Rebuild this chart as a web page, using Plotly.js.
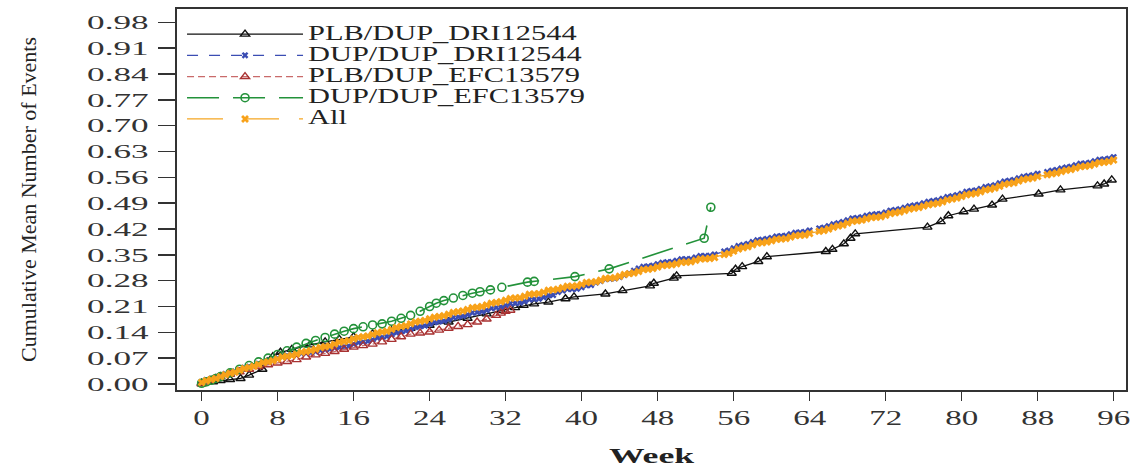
<!DOCTYPE html>
<html>
<head>
<meta charset="utf-8">
<script src="https://cdn.plot.ly/plotly-3.0.1.min.js"></script>
<style>
  html, body { margin: 0; padding: 0; background: #fff; }
  #chart { width: 1133px; height: 469px; }
  .legendtext { font-size: 20px !important; }
</style>
</head>
<body>
<div id="chart"></div>
<script>
// ---------------- data ----------------
var seriesNames = ['PLB/DUP_DRI12544', 'DUP/DUP_DRI12544', 'PLB/DUP_EFC13579', 'DUP/DUP_EFC13579', 'All'];

var weeksPlbDri = [0,1.2,2,3,4.1,5,6.4,6.9,7.5,8.3,
  9.5,11.4,13,14.5,16,18,20,22,24,26,
  28,30,31.5,33,33.9,35,36.5,38.3,39.2,42.5,
  44.3,47.2,47.6,49.7,50,55.8,56.2,56.9,58.6,59.5,
  65.7,66.4,67.6,68.3,68.8,76.4,77.8,78.6,80.2,81.3,
  83.2,84.3,88.1,90.4,94.3,95,95.8];
var valuesPlbDri = [0.002,0.006,0.009,0.012,0.015,0.024,0.040,0.060,0.074,0.086,
  0.094,0.106,0.114,0.121,0.128,0.136,0.144,0.151,0.159,0.168,
  0.178,0.190,0.199,0.207,0.213,0.217,0.222,0.231,0.236,0.244,
  0.253,0.266,0.273,0.287,0.293,0.300,0.311,0.318,0.332,0.345,
  0.359,0.365,0.380,0.395,0.407,0.425,0.440,0.456,0.467,0.474,
  0.485,0.501,0.515,0.526,0.537,0.542,0.553];

// dense event times shared by the DUP/DUP_DRI12544 and All curves
var weeksDense = [0,0.5,1,1.5,2,2.5,3,3.5,4,4.5,
  5,5.5,6,6.5,7,7.5,8,8.5,9,9.5,
  10,10.5,11,11.5,12,12.5,13,13.5,14,14.5,
  15,15.5,16,16.5,17,17.5,18,18.5,19,19.5,
  20,20.5,21,21.5,22,22.5,23,23.5,24,24.5,
  25,25.5,26,26.5,27,27.5,28,28.5,29,29.5,
  30,30.5,31,31.5,32,32.5,33,33.5,34,34.5,
  35,35.5,36,36.5,37,37.5,38,38.5,39,39.5,
  40,40.5,41,41.5,42,42.5,43,43.5,44,44.5,
  45,45.5,46,46.5,47,47.5,48,48.5,49,49.5,
  50,50.5,51,51.5,52,52.5,53,53.5,54,
  55,55.5,56,56.5,57,57.5,58,58.5,59,59.5,
  60,60.5,61,61.5,62,62.5,63,63.5,64,
  65,65.5,66,66.5,67,67.5,68,68.5,69,69.5,
  70,70.5,71,71.5,72,72.5,73,73.5,74,74.5,
  75,75.5,76,76.5,77,77.5,78,78.5,79,79.5,
  80,80.5,81,81.5,82,82.5,83,83.5,84,84.5,
  85,85.5,86,86.5,87,87.5,88,89,89.5,
  90,90.5,91,91.5,92,92.5,93,93.5,94,94.5,
  95,95.5,96];

var valuesDupDri = [0.005,0.011,0.014,0.017,0.022,0.027,0.031,0.034,0.039,0.044,
  0.047,0.050,0.055,0.060,0.062,0.065,0.070,0.075,0.077,0.079,
  0.082,0.083,0.084,0.085,0.088,0.091,0.093,0.095,0.098,0.099,
  0.101,0.103,0.108,0.112,0.114,0.116,0.120,0.125,0.127,0.129,
  0.134,0.139,0.142,0.144,0.149,0.154,0.156,0.158,0.163,0.167,
  0.169,0.171,0.175,0.180,0.182,0.184,0.188,0.193,0.194,0.196,
  0.200,0.205,0.207,0.209,0.213,0.218,0.219,0.220,0.224,0.229,
  0.230,0.231,0.235,0.240,0.241,0.249,0.253,0.257,0.257,0.258,
  0.262,0.267,0.268,0.275,0.279,0.284,0.285,0.286,0.290,0.295,
  0.300,0.307,0.313,0.318,0.319,0.321,0.325,0.329,0.330,0.331,
  0.334,0.338,0.338,0.339,0.343,0.347,0.347,0.348,0.351,
  0.359,0.362,0.368,0.374,0.377,0.380,0.385,0.390,0.391,0.393,
  0.396,0.400,0.401,0.402,0.406,0.410,0.411,0.412,0.416,
  0.422,0.424,0.428,0.433,0.436,0.439,0.444,0.449,0.450,0.452,
  0.456,0.459,0.460,0.461,0.465,0.470,0.472,0.474,0.478,0.482,
  0.484,0.486,0.490,0.494,0.496,0.498,0.502,0.507,0.509,0.512,
  0.516,0.521,0.523,0.525,0.529,0.534,0.536,0.539,0.544,0.549,
  0.551,0.553,0.558,0.562,0.564,0.566,0.570,0.575,0.578,
  0.580,0.584,0.587,0.589,0.593,0.597,0.598,0.600,0.604,0.608,
  0.609,0.611,0.615];

var valuesAll = [0.004,0.009,0.012,0.015,0.020,0.025,0.029,0.032,0.037,0.042,
  0.045,0.048,0.053,0.058,0.060,0.063,0.068,0.073,0.075,0.077,
  0.081,0.086,0.088,0.090,0.094,0.099,0.101,0.103,0.108,0.113,
  0.115,0.117,0.122,0.126,0.128,0.130,0.134,0.139,0.141,0.143,
  0.148,0.153,0.156,0.158,0.163,0.168,0.170,0.172,0.177,0.181,
  0.183,0.185,0.189,0.194,0.196,0.198,0.202,0.207,0.208,0.210,
  0.214,0.219,0.221,0.223,0.227,0.232,0.233,0.234,0.238,0.243,
  0.244,0.245,0.249,0.254,0.255,0.257,0.261,0.265,0.265,0.266,
  0.270,0.275,0.276,0.277,0.281,0.286,0.287,0.288,0.292,0.297,
  0.299,0.301,0.305,0.310,0.311,0.313,0.317,0.321,0.322,0.323,
  0.326,0.330,0.330,0.331,0.335,0.339,0.339,0.340,0.343,
  0.351,0.354,0.360,0.366,0.369,0.372,0.377,0.382,0.383,0.385,
  0.388,0.392,0.393,0.394,0.398,0.402,0.403,0.404,0.408,
  0.414,0.416,0.420,0.425,0.428,0.431,0.436,0.441,0.442,0.444,
  0.448,0.451,0.452,0.453,0.457,0.462,0.464,0.466,0.470,0.474,
  0.476,0.478,0.482,0.486,0.488,0.490,0.494,0.499,0.501,0.504,
  0.508,0.513,0.515,0.517,0.521,0.526,0.528,0.531,0.536,0.541,
  0.543,0.545,0.550,0.554,0.556,0.558,0.562,0.567,0.570,
  0.572,0.576,0.579,0.581,0.585,0.589,0.590,0.592,0.596,0.600,
  0.601,0.603,0.607];

var weeksPlbEfc = [0,0.5,1,1.5,2,3,4,5,6,7,8,9,10,11,12,13,14,15,16,17,18,19,20,
  21,22,23,24,25,26,27,28,29,30,31,31.5,32,32.5];
var valuesPlbEfc = [0,0.005,0.010,0.015,0.020,0.026,0.033,0.040,0.047,0.052,0.057,0.061,0.066,
  0.073,0.079,0.083,0.088,0.094,0.100,0.104,0.108,0.114,0.121,0.128,0.135,0.138,0.141,
  0.146,0.151,0.156,0.161,0.168,0.176,0.186,0.192,0.197,0.200];

var weeksDupEfc = [0,0.5,1,1.5,2,3,4,5,6,7,8,9,10,11,12,13,14,15,16,17,18,19,20,21,22,23,24,
  24.7,25.5,26.5,27.5,28.5,29.3,30.4,31.6,34.3,35,39.3,42.9,52.9,53.6];
var valuesDupEfc = [0.002,0.006,0.010,0.015,0.020,0.030,0.040,0.050,0.060,0.070,0.080,0.090,
  0.100,0.110,0.118,0.126,0.135,0.143,0.150,0.155,0.160,0.163,0.170,0.178,0.186,0.197,0.210,
  0.219,0.226,0.233,0.240,0.246,0.250,0.255,0.262,0.276,0.278,0.291,0.312,0.395,0.479];

var xTickVals = [0,8,16,24,32,40,48,56,64,72,80,88,96];
var yTickVals = [0,0.07,0.14,0.21,0.28,0.35,0.42,0.49,0.56,0.63,0.70,0.77,0.84,0.91,0.98];
var yTickText = ['0.00','0.07','0.14','0.21','0.28','0.35','0.42','0.49','0.56','0.63','0.70','0.77','0.84','0.91','0.98'];

// ---------------- traces ----------------
var FONT = 'Liberation Serif, Times New Roman, serif';
var traces = [
  {x: weeksPlbDri, y: valuesPlbDri, name: seriesNames[0], mode: 'lines+markers',
   line: {color: '#111111', width: 1.3, dash: 'solid'},
   marker: {symbol: 'triangle-up-open', size: 8, color: '#111111', line: {width: 1.4, color: '#111111'}}},
  {x: weeksDense, y: valuesDupDri, name: seriesNames[1], mode: 'lines+markers',
   line: {color: '#3b4db3', width: 1.3, dash: '11px,11px'},
   marker: {symbol: 'x', size: 6, color: '#3b4db3', line: {width: 0}}},
  {x: weeksPlbEfc, y: valuesPlbEfc, name: seriesNames[2], mode: 'lines+markers',
   line: {color: '#c96a6a', width: 1.3, dash: '7px,4px'},
   marker: {symbol: 'triangle-up-open', size: 8, color: '#a83232', line: {width: 1.4, color: '#a83232'}}},
  {x: weeksDupEfc, y: valuesDupEfc, name: seriesNames[3], mode: 'lines+markers',
   line: {color: '#23923a', width: 1.6, dash: '32px,14px'},
   marker: {symbol: 'circle-open', size: 8, color: '#23923a', line: {width: 1.6, color: '#23923a'}}},
  {x: weeksDense, y: valuesAll, name: seriesNames[4], mode: 'lines+markers',
   line: {color: '#f5a623', width: 1.3, dash: '36px,20px'},
   marker: {symbol: 'x', size: 7, color: '#f8a21a', line: {width: 0}}}
];

var layout = {
  width: 1133, height: 469,
  margin: {l: 177, r: 7, t: 9, b: 79},
  paper_bgcolor: '#ffffff', plot_bgcolor: '#ffffff',
  showlegend: true,
  font: {family: FONT, color: '#222222'},
  xaxis: {
    range: [-2.59, 97.3], tickmode: 'array', tickvals: xTickVals,
    ticks: 'outside', ticklen: 9, tickwidth: 1.5, tickcolor: '#333333',
    showline: true, linecolor: '#333333', linewidth: 1.6, mirror: true,
    showgrid: false, zeroline: false,
    tickfont: {family: FONT, size: 20, color: '#333333'},
    title: {text: 'Week', font: {family: FONT, size: 22, weight: 'bold', color: '#222222'}, standoff: 20}
  },
  yaxis: {
    range: [-0.0163, 1.0163], tickmode: 'array', tickvals: yTickVals, ticktext: yTickText,
    ticks: 'outside', ticklen: 17, tickwidth: 1.5, tickcolor: '#333333',
    showline: true, linecolor: '#333333', linewidth: 1.6, mirror: true,
    showgrid: false, zeroline: false,
    ticklabelstandoff: 6,
    tickfont: {family: FONT, size: 19, color: '#333333'},
    title: {text: 'Cumulative Mean Number of Events', font: {family: FONT, size: 22, color: '#222222'}, standoff: 72}
  },
  legend: {
    x: 0.0053, xanchor: 'left', y: 0.975, yanchor: 'top',
    bgcolor: 'rgba(0,0,0,0)', borderwidth: 0,
    font: {family: FONT, size: 14, color: '#222222'},
    itemwidth: 116, tracegroupgap: 0, itemclick: false, itemdoubleclick: false
  }
};

function stretchText(selector, factor) {
  document.querySelectorAll(selector).forEach(function (t) {
    var len = t.getComputedTextLength();
    if (len > 0) {
      t.setAttribute('textLength', (len * factor).toFixed(1));
      t.setAttribute('lengthAdjust', 'spacingAndGlyphs');
    }
  });
}

Plotly.newPlot('chart', traces, layout, {displayModeBar: false, staticPlot: true}).then(function () {
  // the legend labels are drawn larger than the font used for row spacing: do not clip them
  document.querySelectorAll('g.legend g.scrollbox, g.legend').forEach(function (g) {
    g.removeAttribute('clip-path');
  });
  stretchText('g.xtick text', 1.65);
  stretchText('g.ytick text', 1.85);
  stretchText('text.legendtext', 1.52);
  stretchText('text.xtitle', 1.62);
});
</script>
</body>
</html>
